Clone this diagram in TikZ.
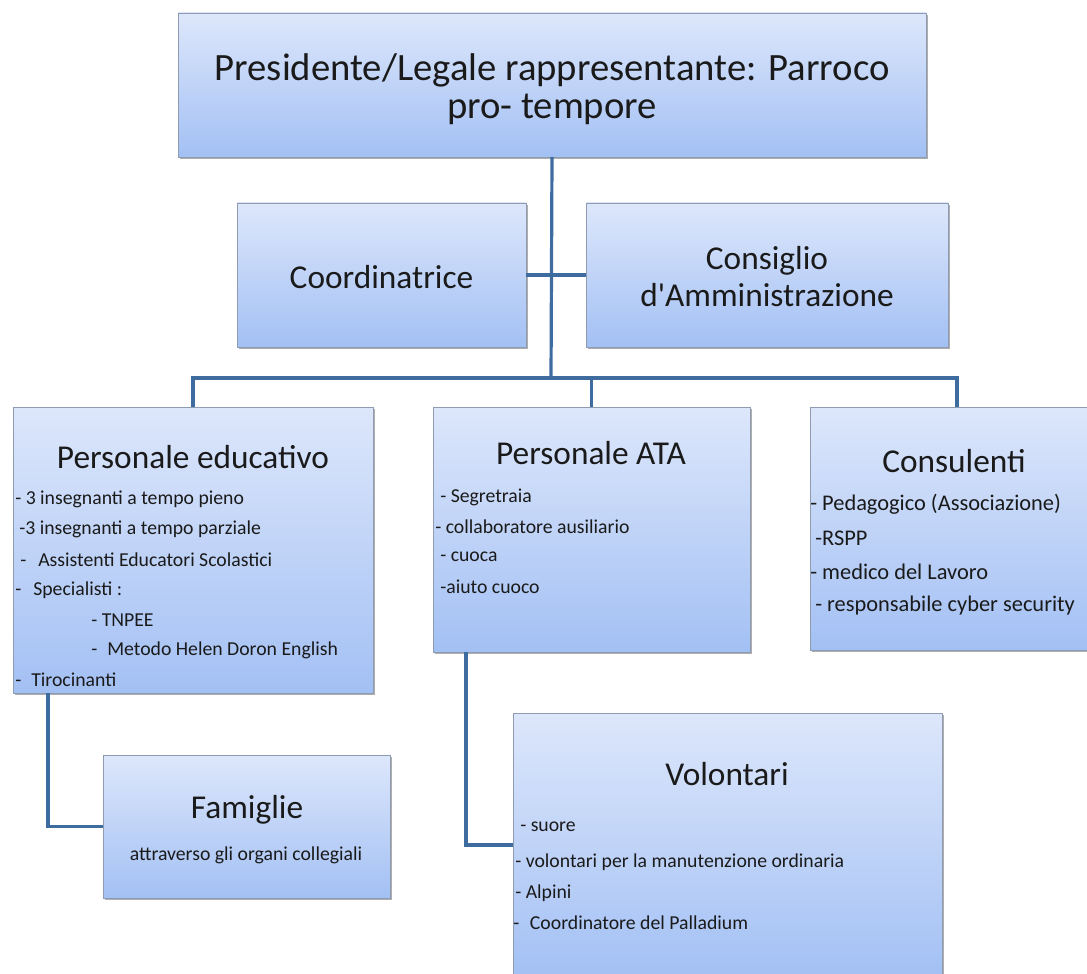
\documentclass[tikz,border=0pt]{standalone}
\usepackage{fontspec}
\setmainfont{Carlito}
\usetikzlibrary{shadows}
\definecolor{boxtop}{HTML}{DDE7FB}
\definecolor{boxbot}{HTML}{A3C0F4}
\definecolor{boxedge}{HTML}{8E9BB0}
\definecolor{connblue}{HTML}{3F6C9F}
\definecolor{txt}{HTML}{1A1A1A}
\newcommand\orgbox[5]{\node[orgbox, minimum width={(#4-#2)*0.75pt}, minimum height={(#5-#3)*0.75pt}] (#1) at ({(#2+#4)/2},{(#3+#5)/2}) {};}
\begin{document}
\begin{tikzpicture}[x=0.75pt,y=-0.75pt,
  orgbox/.style={rectangle, draw=boxedge, line width=0.7pt, top color=boxtop, bottom color=boxbot,
     inner sep=0pt, outer sep=0pt,
     drop shadow={shadow xshift=1.3pt, shadow yshift=-1.6pt, opacity=0.45, fill=black!70}},
  conn/.style={draw=connblue, line width=2.4pt},
  toptitle/.style={font=\fontsize{29}{28.5}\selectfont, align=center, text=txt, inner sep=0pt},
  title/.style={font=\fontsize{25}{27.75}\selectfont, align=center, text=txt, inner sep=0pt},
  item/.style={font=\fontsize{14.8}{17}\selectfont, anchor=west, text=txt, inner sep=0pt},
  itemb/.style={font=\fontsize{16.8}{19}\selectfont, anchor=west, text=txt, inner sep=0pt}]
\useasboundingbox (0,0) rectangle (1087,973);
\begin{scope}
\clip (0,0) rectangle (1087,973);
% boxes
\orgbox{top}{178}{13}{926}{157}
\orgbox{coord}{237}{203}{526}{347}
\orgbox{cons}{586}{203}{948}{347}
\orgbox{pe}{13}{407}{373}{693}
\orgbox{ata}{433}{407}{750}{652}
\orgbox{cs}{810}{407}{1104}{650}
\orgbox{fam}{103}{755}{390}{898}
\orgbox{vol}{513}{713}{942}{977}
\coordinate (bus) at (551,378);
% connectors
\draw[conn] (top.south) -- (bus);
\draw[conn] (coord.east) -- (cons.west);
\draw[conn] (pe.north) |- (bus) -| (cs.north);
\draw[conn] (bus) -| (ata.north);
\draw[conn] ([xshift=26.25pt]pe.south west) |- (fam.west);
\draw[conn] ([xshift=24.75pt]ata.south west) |- (vol.west);
\end{scope}
% texts
\node[toptitle] (ttop) at (552,89) {Presidente/Legale rappresentante: Parroco\\pro- tempore};
\node[title] (tcoord) at (381.5,277) {Coordinatrice};
\node[title] (tcons) at (767,277) {Consiglio\\d\textquotesingle Amministrazione};
\node[title] (tpe) at (193,457) {Personale educativo};
\node[item] (pe1) at (15,499) {- 3 insegnanti a tempo pieno};
\node[item] (pe2) at (19,529) {-3 insegnanti a tempo parziale};
\node[item] (pe3) at (20,560) {-\hspace{9pt}Assistenti Educatori Scolastici};
\node[item] (pe4) at (15,590) {-\hspace{9pt}Specialisti :};
\node[item] (pe5) at (91,620) {- TNPEE};
\node[item] (pe6) at (91,650) {-\hspace{7.5pt}Metodo Helen Doron English};
\node[item] (pe7) at (15,680) {-\hspace{7.5pt}Tirocinanti};
\node[title] (tata) at (591,453) {Personale ATA};
\node[item] (ata1) at (440,497) {- Segretraia};
\node[item] (ata2) at (435,527) {- collaboratore ausiliario};
\node[item] (ata3) at (440,557) {- cuoca};
\node[item] (ata4) at (440,587) {-aiuto cuoco};
\node[title] (tcs) at (954,461) {Consulenti};
\node[itemb] (cs1) at (810,504) {- Pedagogico (Associazione)};
\node[itemb] (cs2) at (815,538) {-RSPP};
\node[itemb] (cs3) at (810,572) {- medico del Lavoro};
\node[itemb] (cs4) at (815,606) {- responsabile cyber security};
\node[title] (tfam) at (247,810) {Famiglie};
\node[item, anchor=center] (fam1) at (246,855) {attraverso gli organi collegiali};
\node[title] (tvol) at (727,774) {Volontari};
\node[item] (vol1) at (520,827) {- suore};
\node[item] (vol2) at (515,862) {- volontari per la manutenzione ordinaria};
\node[item] (vol3) at (515,893) {- Alpini};
\node[item] (vol4) at (513,923) {-\hspace{8pt}Coordinatore del Palladium};
\end{tikzpicture}
\end{document}
